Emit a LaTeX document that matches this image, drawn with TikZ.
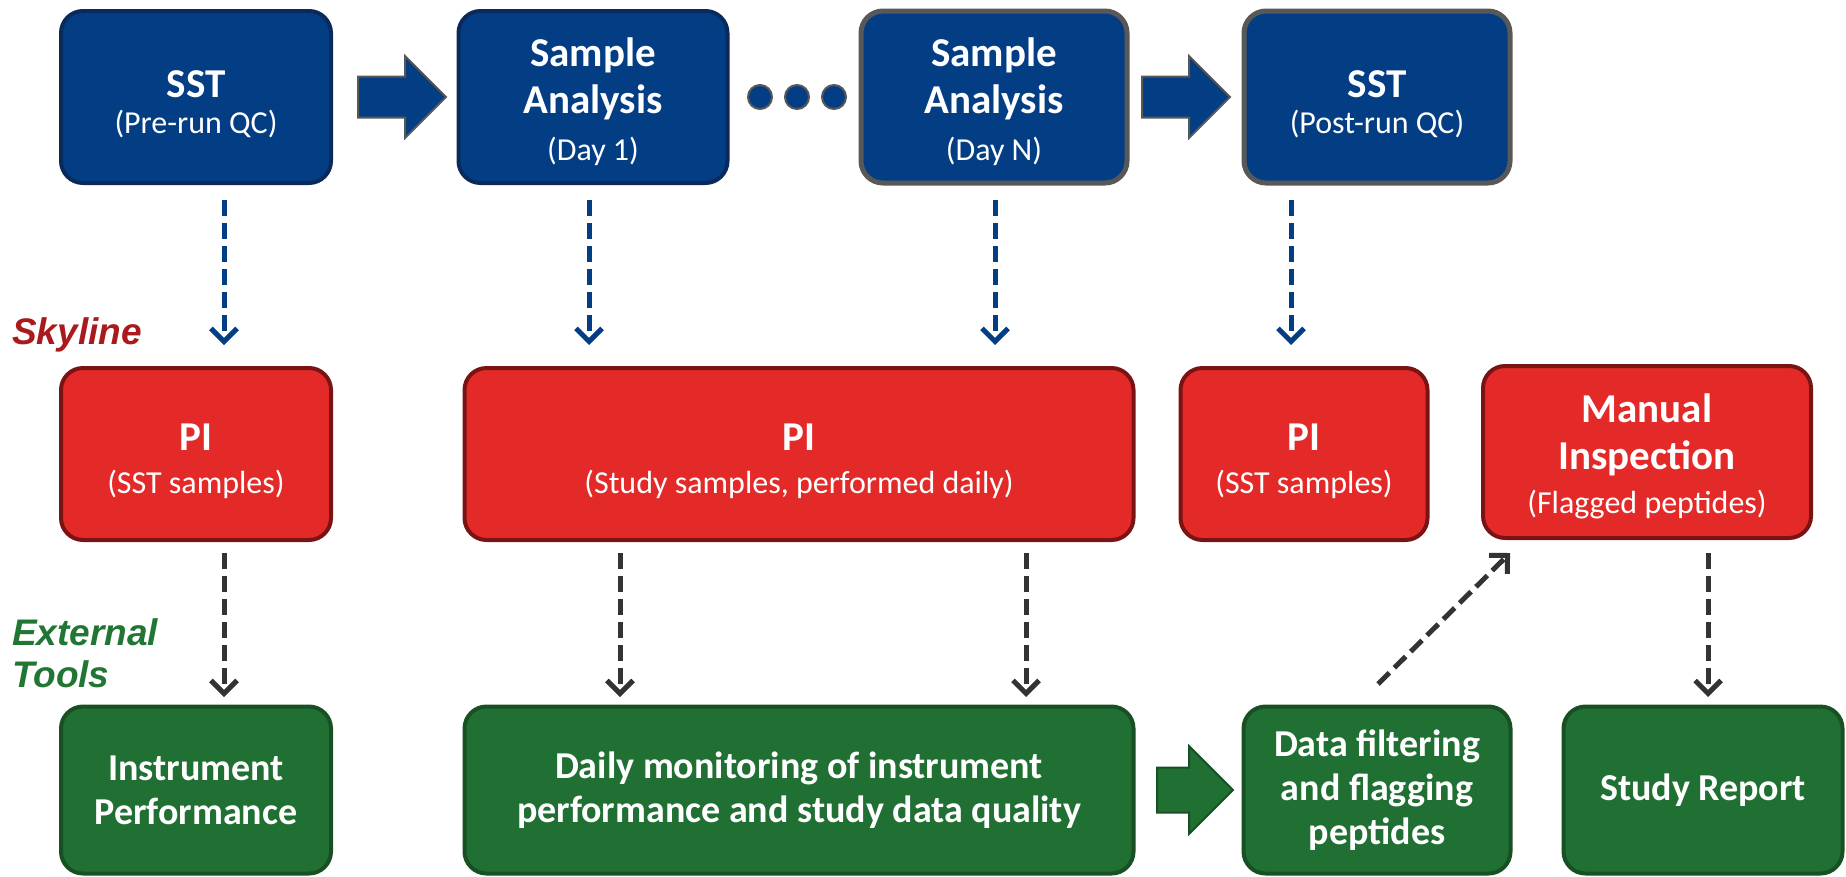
\documentclass[tikz,border=0pt]{standalone}
\usepackage{fontspec}
\setmainfont{Carlito}
\newfontfamily\lanefont{Liberation Sans}
\usetikzlibrary{arrows.meta,shapes.arrows}

\definecolor{runblue}{RGB}{3,62,133}
\definecolor{runblueline}{RGB}{10,42,92}
\definecolor{rungrey}{RGB}{88,88,88}
\definecolor{pired}{RGB}{227,42,41}
\definecolor{piredline}{RGB}{122,20,20}
\definecolor{toolgreen}{RGB}{33,112,51}
\definecolor{toolgreenline}{RGB}{24,80,36}
\definecolor{lanered}{RGB}{170,26,28}
\definecolor{lanegreen}{RGB}{32,118,50}
\definecolor{linkgrey}{RGB}{51,51,51}

\newcommand{\headfont}{\fontsize{41}{47}\selectfont\bfseries}
\newcommand{\notefont}{\fontsize{32}{43}\selectfont\mdseries}
\newcommand{\toolfont}{\fontsize{38}{44}\selectfont\bfseries}
\newcommand{\lift}{\rule{0pt}{41pt}}
\newcommand{\liftt}{\rule{0pt}{38pt}}

\tikzset{
  panel/.style={line width=4pt, rounded corners=22pt, text=white,
    align=center, inner sep=0pt},
  runbox/.style={panel, draw=runblueline, fill=runblue, minimum height=172pt,
    font=\headfont},
  lastbox/.style={runbox, draw=rungrey, line width=5pt},
  pibox/.style={runbox, draw=piredline, fill=pired},
  toolbox/.style={panel, draw=toolgreenline, fill=toolgreen,
    minimum height=167pt, font=\toolfont},
  bigarrow/.style={single arrow, draw=rungrey, fill=runblue, line width=2pt,
    minimum height=88pt, inner xsep=0pt, inner ysep=19.5pt,
    single arrow head extend=20.5pt, single arrow tip angle=90, anchor=tail},
  rundot/.style={circle, draw=rungrey, fill=runblue, line width=2pt,
    minimum size=24pt, inner sep=0pt},
  bluelink/.style={draw=runblue, line width=5pt, dash pattern=on 16pt off 7pt,
    -{Straight Barb[length=13pt,width=26pt]}},
  greylink/.style={bluelink, draw=linkgrey},
  lane/.style={font=\lanefont\fontsize{37}{42}\selectfont\bfseries\itshape,
    anchor=west, align=left, inner sep=0pt}
}

\begin{document}
\begin{tikzpicture}[x=1pt,y=-1pt]
  \useasboundingbox (0,0) rectangle (1846,876);

  % acquisition runs
  \node[runbox, minimum width=270pt] (sst1) at (196,97) {\lift SST\\[-11pt]{\notefont (Pre-run QC)}};
  \node[runbox, minimum width=269pt] (day1) at (593,97) {\liftt Sample\\Analysis\\{\notefont (Day 1)}};
  \node[lastbox, minimum width=266pt] (dayn) at (994,97) {\liftt Sample\\Analysis\\{\notefont (Day N)}};
  \node[lastbox, minimum width=266pt] (sst2) at (1377,97) {\lift SST\\[-11pt]{\notefont (Post-run QC)}};

  \node[bigarrow] (go1) at (357,97) {};
  \node[bigarrow] (go2) at (1141,97) {};
  \node[rundot] (dot1) at (760,97) {};
  \node[rundot] (dot2) at (797,97) {};
  \node[rundot] (dot3) at (834,97) {};

  % Skyline processing
  \node[pibox, minimum width=270pt] (pi1) at (196,454) {\lift PI\\[-4pt]{\notefont (SST samples)}};
  \node[pibox, minimum width=669pt] (pi2) at (799,454) {\lift PI\\[-4pt]{\notefont (Study samples, performed daily)}};
  \node[pibox, minimum width=247pt] (pi3) at (1304,454) {\lift PI\\[-4pt]{\notefont (SST samples)}};
  \node[pibox, minimum width=328pt] (manual) at (1647,452) {\liftt Manual\\Inspection\\[-3pt]{\notefont (Flagged peptides)}};

  % external tools
  \node[toolbox, minimum width=270pt] (perf) at (196,790) {Instrument\\Performance};
  \node[toolbox, minimum width=669pt] (daily) at (799,790) {Daily monitoring of instrument\\performance and study data quality};
  \node[toolbox, minimum width=267pt] (filter) at (1377,790) {Data filtering\\and flagging\\peptides};
  \node[toolbox, minimum width=279pt] (report) at (1703,790) {Study Report};
  \node[bigarrow, draw=toolgreenline, fill=toolgreen, minimum height=76pt,
    inner ysep=21.5pt, single arrow head extend=21.5pt] (go3) at (1156,790) {};

  \node[lane, text=lanered] (sky) at (12,335) {Skyline};
  \node[lane, text=lanegreen] (ext) at (12,653) {External\\Tools};

  % dashed hand-offs
  \coordinate (b1) at (224,200);  \coordinate (b1x) at (224,345);
  \coordinate (b2) at (589,200);  \coordinate (b2x) at (589,345);
  \coordinate (b3) at (995,200);  \coordinate (b3x) at (995,345);
  \coordinate (b4) at (1291,200); \coordinate (b4x) at (1291,345);
  \draw[bluelink] (b1) -- (b1x);
  \draw[bluelink] (b2) -- (b2x);
  \draw[bluelink] (b3) -- (b3x);
  \draw[bluelink] (b4) -- (b4x);

  \coordinate (g1) at (224,553);  \coordinate (g1x) at (224,697);
  \coordinate (g2) at (620,553);  \coordinate (g2x) at (620,697);
  \coordinate (g3) at (1026,553); \coordinate (g3x) at (1026,697);
  \coordinate (g4) at (1708,553); \coordinate (g4x) at (1708,697);
  \coordinate (g5) at (1378,684); \coordinate (g5x) at (1510,553);
  \draw[greylink] (g1) -- (g1x);
  \draw[greylink] (g2) -- (g2x);
  \draw[greylink] (g3) -- (g3x);
  \draw[greylink] (g4) -- (g4x);
  \draw[greylink] (g5) -- (g5x);
\end{tikzpicture}
\end{document}
